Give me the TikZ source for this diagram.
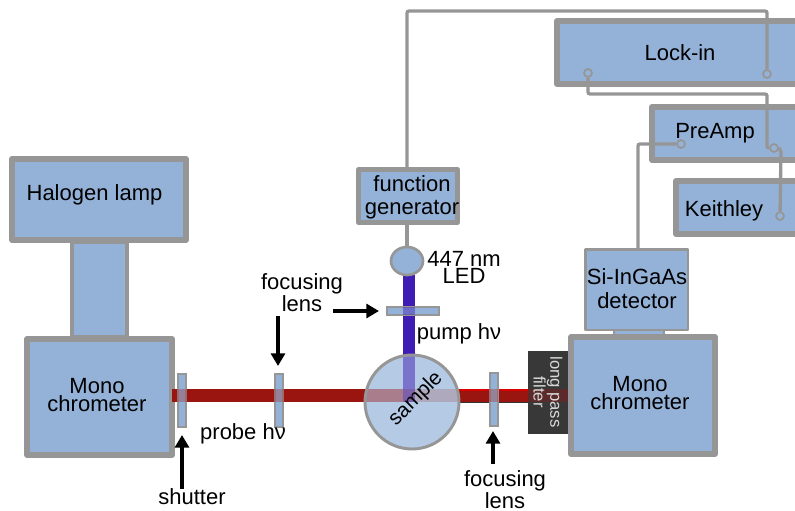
\documentclass[tikz,border=0pt]{standalone}
\usepackage{fontspec}
\setmainfont{Liberation Sans}
\usetikzlibrary{arrows.meta,shapes.geometric}
\definecolor{boxblue}{HTML}{94B2D7}
\definecolor{boxgray}{HTML}{969696}
\definecolor{beamred}{HTML}{9A1410}
\definecolor{beamblue}{HTML}{3F1DB5}
\definecolor{darkfilter}{HTML}{383838}
\definecolor{samplefill}{HTML}{B4CAE5}
\tikzset{
 x=0.75pt,y=-0.75pt,
 lbl/.style={font=\fontsize{16.5}{13.6}\selectfont,align=center,inner sep=0pt,text=black},
 wire/.style={draw=boxgray,line width=2.5pt,rounded corners=1.5pt},
 port/.style={circle,draw=boxgray,fill=boxblue,line width=1.3pt,minimum width=5pt,minimum height=6pt,inner sep=0pt},
 lensbox/.style={draw=boxgray,fill=boxblue,line width=1.5pt},
 callout/.style={-{Triangle[length=9.5pt,width=10.5pt]},line width=2.6pt,black}
}
\newcommand{\panel}[6]{% name, x1,y1,x2,y2, border px
 \path[draw=boxgray,fill=boxblue,line width=#6*0.75pt,line join=round] (#2+#6/2,#3+#6/2) rectangle (#4-#6/2,#5-#6/2);
 \coordinate (#1) at ({(#2+#4)/2},{(#3+#5)/2});
}
\begin{document}
\begin{tikzpicture}
\useasboundingbox (0,0) rectangle (795,510);
\clip (0,0) rectangle (795,510);
% panels
\panel{neck}{70}{240}{129}{339}{4}
\panel{halogen}{9}{156}{189}{243}{6}
\panel{monoL}{24}{336}{175}{458}{6}
\panel{monoR}{568}{334}{718}{457}{6}
\panel{lockin}{554}{18}{830}{87}{6}
\panel{preamp}{649}{104}{830}{163}{6}
\panel{keithley}{673}{178}{830}{237}{6}
\path[draw=boxgray,fill=boxblue,line width=1.5pt] (614,328) rectangle (664,335);
\panel{det}{584}{248}{689}{331}{2.5}
% beams
\fill[beamred] (172,389) rectangle (528,402);
\fill[red!85!black] (459,388.5) rectangle (528,391);
\fill[black!80] (459,401.5) rectangle (528,403);
\fill[darkfilter] (528,351) rectangle (568,434);
\fill[beamred,opacity=.35] (528,389) rectangle (568,402);
\fill[beamblue] (403,275) rectangle (415,360);
% function generator and LED
\panel{fg}{356}{167}{460}{225}{5}
\coordinate (fgtop) at (407,167);
\coordinate (fgbot) at (407,225);
\node[ellipse,draw=boxgray,fill=boxblue,line width=2pt,inner sep=0pt,minimum width=24pt,minimum height=21pt] (led) at (407,261) {};
\draw[wire] (fgbot) -- (led.north);
% sample
\path[fill=samplefill] (412,402) circle (47);
\begin{scope}
\clip (412,402) circle (47);
\fill[beamred!70!samplefill,opacity=.6] (365,389) rectangle (403,402);
\fill[beamred!60!samplefill,opacity=.3] (415,389) rectangle (459,402);
\fill[beamblue,opacity=.5] (403,350) rectangle (415,389);
\fill[beamblue!70!beamred,opacity=.6] (403,389) rectangle (415,402);
\end{scope}
\path[draw=boxgray,line width=2.2pt] (412,402) circle (47);
% lenses and shutter
\node[lensbox,inner sep=0pt,anchor=north west] (shutter) at (177,373) {\tikz\path (0,0) rectangle (8,53);};
\node[lensbox,inner sep=0pt,anchor=north west] (lensA) at (274,373) {\tikz\path (0,0) rectangle (8,53);};
\node[lensbox,inner sep=0pt,anchor=north west] (lensC) at (489,372) {\tikz\path (0,0) rectangle (8,53);};
\node[lensbox,inner sep=0pt,anchor=north west] (lensB) at (386,306) {\tikz\path (0,0) rectangle (52,8);};
\fill[beamred,opacity=.3] (177,389) rectangle (187,402);
\fill[beamred,opacity=.3] (274,389) rectangle (284,402);
\fill[beamred,opacity=.3] (489,389) rectangle (498,402);
\fill[beamblue,opacity=.45] (403,307) rectangle (415,315);
% ports
\node[port] (pA) at (588,73) {};
\node[port] (pB) at (767,74) {};
\node[port] (pC) at (681,144) {};
\node[port] (pD) at (774,148) {};
\node[port] (pE) at (780,216) {};
% wires
\draw[wire] (fgtop) -- (407,11) -- (767,11) -- (pB);
\draw[wire] (pA) -- (588,94) -- (767,94) -- (767,148) -- (pD);
\draw[wire] (pD.east) -- (781,150) -- (pE);
\draw[wire] (pC) -- (638,144) -- (638,248);
% labels
\node[lbl] (tH) at (94.5,195) {Halogen lamp};
\node[lbl] (tM1) at (97,395) {Mono\\chrometer};
\node[lbl] (tM2) at (640,393) {Mono\\chrometer};
\node[lbl] (tL) at (680,53) {Lock-in};
\node[lbl] (tP) at (715,133) {PreAmp};
\node[lbl] (tK) at (724,211) {Keithley};
\node[lbl,font=\fontsize{16.5}{18}\selectfont] (tD) at (637,289) {Si-InGaAs\\detector};
\node[lbl,font=\fontsize{16.5}{17}\selectfont] (tF) at (412,197) {function\\generator};
\node[lbl,font=\fontsize{16.5}{12.8}\selectfont] (tLED) at (464,267) {447 nm\\LED};
\node[lbl] (tPump) at (459,334) {pump hν};
\node[lbl] (tProbe) at (243,434) {probe hν};
\node[lbl,font=\fontsize{16.5}{12.8}\selectfont] (tFoc1) at (302,293) {focusing\\lens};
\node[lbl,font=\fontsize{16.5}{12.8}\selectfont] (tFoc2) at (505,490) {focusing\\lens};
\node[lbl] (tSh) at (192,497) {shutter};
\node[lbl,rotate=45,font=\fontsize{15.5}{15}\selectfont] (tS) at (416,399) {sample};
\node[lbl,rotate=-90,text=white!85!black,font=\fontsize{12.5}{10.5}\selectfont] (tLP) at (548,392) {long pass\\filter};
% callouts
\coordinate (c1) at (182,489);
\coordinate (c2) at (278,316);
\coordinate (c3) at (493,464);
\coordinate (c4) at (333,311);
\draw[callout] (c1) -- (182,435);
\draw[callout] (c2) -- (278,366);
\draw[callout] (c3) -- (493,431);
\draw[callout] (c4) -- (379,311);
\end{tikzpicture}
\end{document}
